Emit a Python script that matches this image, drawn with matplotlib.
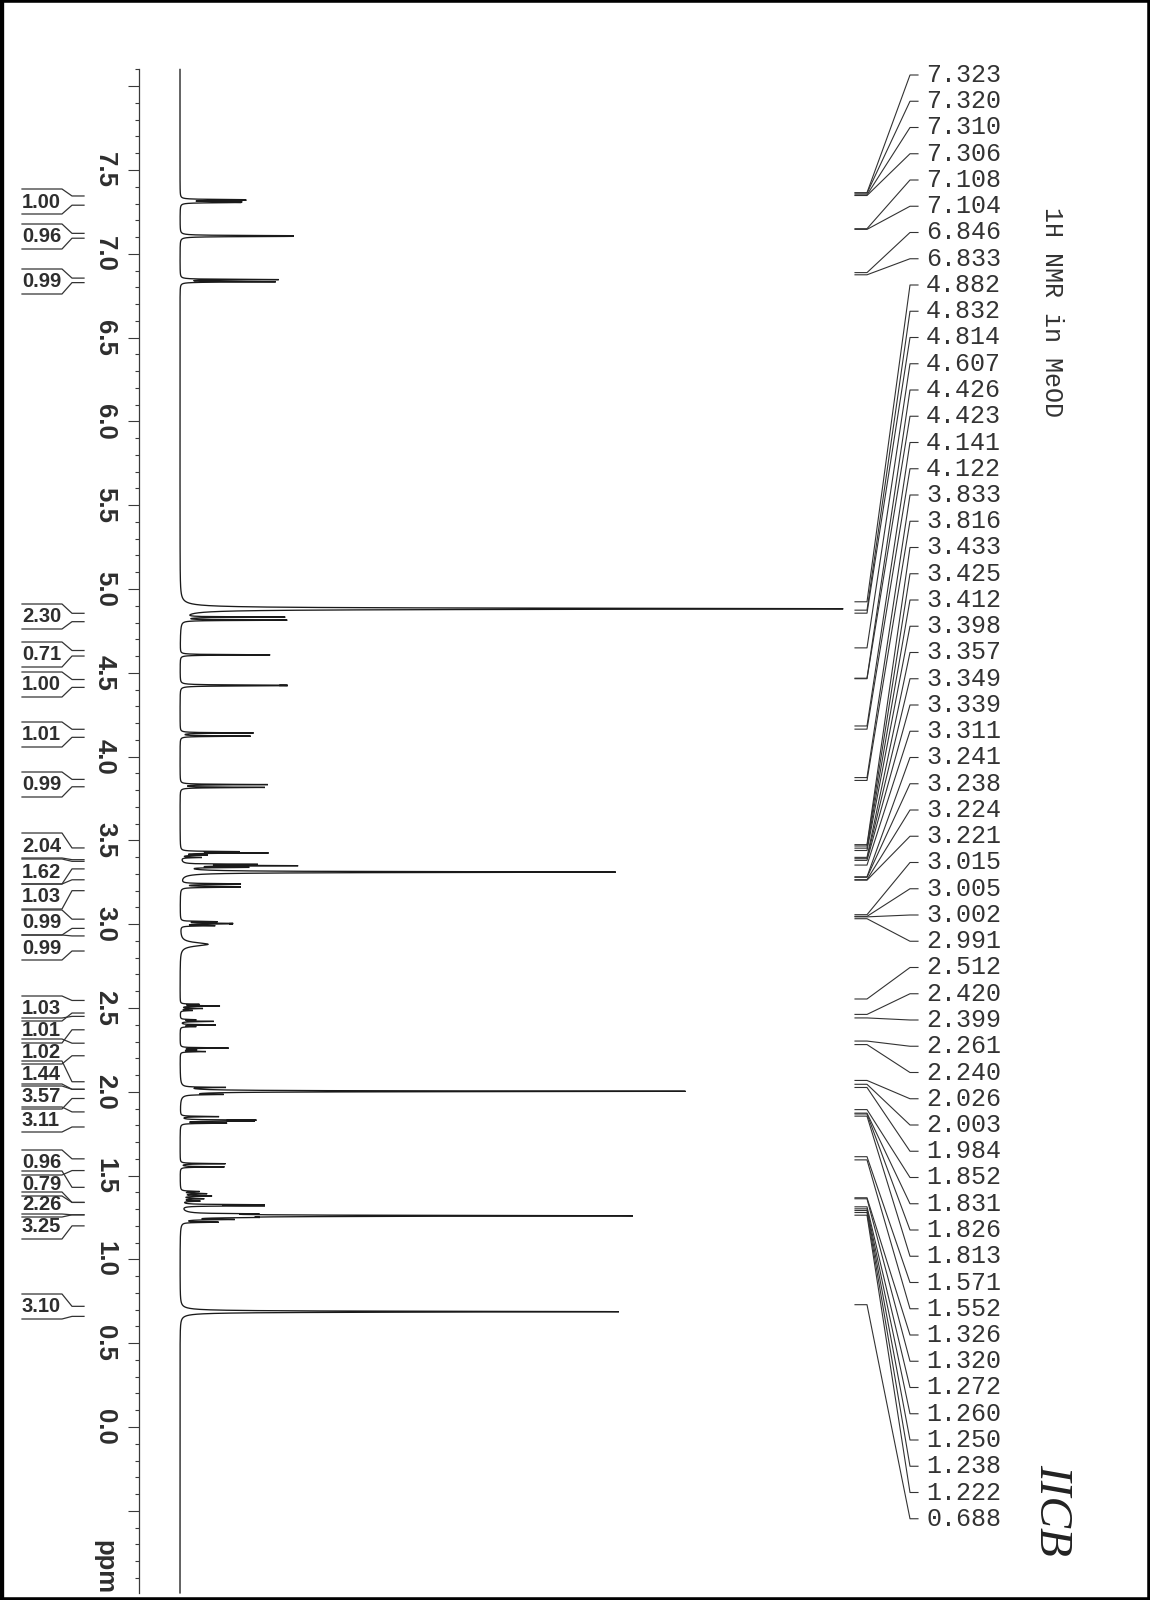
import numpy as np
import matplotlib
matplotlib.use("Agg")
import matplotlib.pyplot as plt
import matplotlib.transforms as mtransforms
from matplotlib.ticker import FixedLocator, FixedFormatter
from matplotlib.lines import Line2D

# ---------------- data ----------------
peak_labels = ["7.323", "7.320", "7.310", "7.306", "7.108", "7.104", "6.846", "6.833",
               "4.882", "4.832", "4.814", "4.607", "4.426", "4.423", "4.141", "4.122",
               "3.833", "3.816", "3.433", "3.425", "3.412", "3.398", "3.357", "3.349",
               "3.339", "3.311", "3.241", "3.238", "3.224", "3.221", "3.015", "3.005",
               "3.002", "2.991", "2.512", "2.420", "2.399", "2.261", "2.240", "2.026",
               "2.003", "1.984", "1.852", "1.831", "1.826", "1.813", "1.571", "1.552",
               "1.326", "1.320", "1.272", "1.260", "1.250", "1.238", "1.222", "0.688"]

# spectrum lines: position (ppm), height above baseline, half width (ppm)
line_ppm = [7.323, 7.320, 7.310, 7.306, 7.108, 7.104, 6.846, 6.833,
            4.882, 4.832, 4.814, 4.607, 4.426, 4.423, 4.141, 4.122,
            3.833, 3.816, 3.433, 3.425, 3.412, 3.398, 3.357, 3.349, 3.339, 3.311,
            3.241, 3.238, 3.224, 3.221, 3.015, 3.005, 3.002, 2.991, 2.880,
            2.522, 2.512, 2.497, 2.485, 2.430, 2.420, 2.399, 2.389,
            2.261, 2.250, 2.240, 2.026, 2.003, 1.984,
            1.852, 1.831, 1.826, 1.813, 1.571, 1.552,
            1.405, 1.392, 1.378, 1.362, 1.348,
            1.326, 1.320, 1.272, 1.260, 1.250, 1.238, 1.222, 0.688]
line_height = [50, 50, 51, 51, 97, 97, 97, 94,
               663, 100, 104, 90, 84, 84, 73, 70,
               87, 84, 55, 85, 25, 20, 70, 110, 60, 435,
               46, 46, 46, 46, 35, 40, 40, 33, 28,
               18, 39, 22, 12, 15, 33, 35, 15,
               48, 15, 25, 40, 505, 35,
               38, 68, 66, 45, 45, 44,
               18, 25, 30, 22, 18,
               77, 77, 52, 450, 40, 45, 35, 439]
line_hwhm = [0.0018] * 8 + [0.004] + [0.0018] * 16 + [0.003] + [0.0018] * 8 + [0.012] \
            + [0.0018] * 12 + [0.0025] + [0.0018] * 7 + [0.0025] * 5 \
            + [0.0018] * 3 + [0.003] + [0.0018] * 3 + [0.003]

integral_values = ["1.00", "0.96", "0.99", "2.30", "0.71", "1.00", "1.01", "0.99",
                   "2.04", "1.62", "1.03", "0.99", "0.99", "1.03", "1.01", "1.02",
                   "1.44", "3.57", "3.11", "0.96", "0.79", "2.26", "3.25", "3.10"]
integral_start = [7.345, 7.122, 6.855, 4.855, 4.633, 4.460, 4.163, 3.864,
                  3.455, 3.375, 3.265, 3.030, 2.930, 2.545, 2.450, 2.290,
                  2.060, 2.015, 1.880, 1.600, 1.430, 1.340, 1.266, 0.720]
integral_end = [7.290, 7.093, 6.828, 4.805, 4.600, 4.413, 4.115, 3.820,
                3.385, 3.330, 3.200, 2.975, 2.840, 2.470, 2.370, 2.215,
                2.015, 1.960, 1.790, 1.530, 1.340, 1.266, 1.200, 0.660]

major_ticks = [-0.5, 0.0, 0.5, 1.0, 1.5, 2.0, 2.5, 3.0, 3.5, 4.0, 4.5, 5.0,
               5.5, 6.0, 6.5, 7.0, 7.5, 8.0]
major_tick_labels = ["", "0.0", "0.5", "1.0", "1.5", "2.0", "2.5", "3.0", "3.5",
                     "4.0", "4.5", "5.0", "5.5", "6.0", "6.5", "7.0", "7.5", ""]

# ---------------- layout (pixels) ----------------
W, H = 1150, 1600
AX_X = 139            # axis line
BASE_X = 180          # spectrum baseline
PPM_REF, PPM_REF_Y, PX_PER_PPM = 7.5, 170.0, 167.6
ppm_top = PPM_REF + PPM_REF_Y / PX_PER_PPM
ppm_bot = PPM_REF - (H - PPM_REF_Y) / PX_PER_PPM
SPEC_TOP, SPEC_BOT = 8.1, -0.99

integral_label_y = [202, 237, 282, 617, 655, 685, 735, 785, 846, 872, 897, 923, 948,
                    1009, 1031, 1052, 1074, 1097, 1120, 1163, 1184, 1205, 1227, 1307]
LABEL_TOP_Y, LABEL_STEP = 75.0, 26.25
RIGHT_OFFSET = 7      # annotation ticks drawn a few px higher (as printed)
TEXT_X = 926

fig = plt.figure(figsize=(W / 100, H / 100), dpi=100)
fig.patch.set_facecolor("white")
ax = fig.add_axes([AX_X / W, 0, 1 - AX_X / W, 1])
ax.patch.set_visible(False)
ax.set_xlim(AX_X - BASE_X, W - BASE_X)
ax.set_ylim(ppm_bot, ppm_top)
for s in ["top", "right", "bottom"]:
    ax.spines[s].set_visible(False)
ax.spines["left"].set_bounds(SPEC_BOT, SPEC_TOP)
ax.spines["left"].set_linewidth(0.9)
ax.spines["left"].set_color("#3a3a3a")
ax.xaxis.set_visible(False)

minor = [round(v, 1) for v in np.arange(-0.9, 8.15, 0.1) if abs(v * 2 - round(v * 2)) > 1e-6]
ax.yaxis.set_major_locator(FixedLocator(major_ticks))
ax.yaxis.set_major_formatter(FixedFormatter(major_tick_labels))
ax.yaxis.set_minor_locator(FixedLocator(minor))
ax.tick_params(axis="y", which="major", direction="out", length=7.9, width=0.8,
               pad=8, labelsize=18.5, color="#3a3a3a", labelcolor="#2e2e2e")
ax.tick_params(axis="y", which="minor", direction="out", length=2.9, width=0.8,
               color="#3a3a3a")
for t in ax.get_yticklabels():
    t.set_rotation(-90)
    t.set_fontweight("bold")
    t.set_va("center")
    t.set_family(["Liberation Sans", "DejaVu Sans"])

# spectrum
grid = np.linspace(SPEC_BOT, SPEC_TOP, 90000)
spec = np.zeros_like(grid)
for p, h, g in zip(line_ppm, line_height, line_hwhm):
    spec += h * g * g / ((grid - p) ** 2 + g * g)
ax.plot(spec, grid, color="#1a1a1a", lw=0.95, solid_joinstyle="miter")


def ppm_at(ypx, off=0.0):
    return ax.transData.inverted().transform((0, H - ypx - off))[1]


ident = mtransforms.IdentityTransform()
blend = mtransforms.blended_transform_factory(ident, ax.transData)
blend_r = mtransforms.blended_transform_factory(
    ident, ax.transData + mtransforms.Affine2D().translate(0, RIGHT_OFFSET))

# "ppm" axis label
ax.text(104, ppm_at(1567), "ppm", transform=blend, rotation=-90, ha="center", va="center",
        fontsize=18.5, fontweight="bold", color="#2e2e2e",
        family=["Liberation Sans", "DejaVu Sans"], clip_on=False)

# integrals (left)
for val, a, b, yc in zip(integral_values, integral_start, integral_end, integral_label_y):
    top = ppm_at(yc - 13)
    bot = ppm_at(yc + 12)
    ax.add_line(Line2D([22, 62, 72, 84], [top, top, a, a], transform=blend,
                       color="#333333", lw=0.9, clip_on=False))
    ax.add_line(Line2D([22, 62, 72, 84], [bot, bot, b, b], transform=blend,
                       color="#333333", lw=0.9, clip_on=False))
    ax.text(22, ppm_at(yc), val, transform=blend, ha="left", va="center",
            fontsize=14.5, fontweight="bold", color="#2e2e2e",
            family=["Liberation Sans", "DejaVu Sans"], clip_on=False)

# peak annotations (right)
for i, lab in enumerate(peak_labels):
    pk = float(lab)
    yl = ppm_at(LABEL_TOP_Y + i * LABEL_STEP, RIGHT_OFFSET)
    ax.add_line(Line2D([855, 867, 910, TEXT_X - 8], [pk, pk, yl, yl], transform=blend_r,
                       color="#333333", lw=0.8, clip_on=False))
    ax.text(TEXT_X, yl, lab, transform=blend_r, ha="left", va="center", fontsize=18,
            color="#333333", family=["Liberation Mono", "DejaVu Sans Mono"], clip_on=False)

ax.text(1052, ppm_at(312), "1H NMR in MeOD", transform=blend, rotation=-90,
        ha="center", va="center", fontsize=18, color="#333333",
        family=["Liberation Mono", "DejaVu Sans Mono"], clip_on=False)
ax.text(1051, ppm_at(1510), "IICB", transform=blend, rotation=-90,
        ha="center", va="center", fontsize=34, style="italic", color="#222222",
        family=["Liberation Serif", "DejaVu Serif"], clip_on=False)

# page frame
for xs, ys, lw in [([0, 0], [0, 1], 6), ([0, 1], [1, 1], 4), ([1, 1], [0, 1], 4), ([0, 1], [0, 0], 4)]:
    fig.add_artist(Line2D(xs, ys, transform=fig.transFigure, color="black", lw=lw))

fig.savefig("out.png", dpi=100, facecolor="white")
